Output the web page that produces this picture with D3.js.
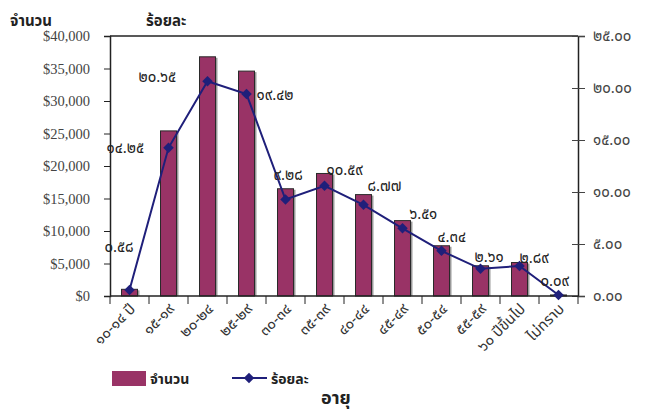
<!DOCTYPE html>
<html><head><meta charset="utf-8">
<script src="https://cdn.jsdelivr.net/npm/d3@7"></script>
<style>
body{margin:0;background:#fff;}
svg{display:block;}
</style></head>
<body><svg id="c" width="651" height="414"></svg>
<script>
const categories = ["๑๐-๑๔ ปี","๑๕-๑๙","๒๐-๒๔","๒๕-๒๙","๓๐-๓๔","๓๕-๓๙","๔๐-๔๔","๔๕-๔๙","๕๐-๕๔","๕๕-๕๙","๖๐ ปีขึ้นไป","ไม่ทราบ"];
const counts = [1030, 25400, 36800, 34600, 16500, 18850, 15600, 11600, 7730, 4650, 5150, 160];
const percents = [0.58, 14.25, 20.65, 19.42, 9.28, 10.59, 8.77, 6.51, 4.34, 2.61, 2.89, 0.09];
const percentLabels = ["๐.๕๘","๑๔.๒๕","๒๐.๖๕","๑๙.๔๒","๙.๒๘","๑๐.๕๙","๘.๗๗","๖.๕๑","๔.๓๔","๒.๖๑","๒.๘๙","๐.๐๙"];
const leftTicks = [0,5000,10000,15000,20000,25000,30000,35000,40000];
const rightTicks = [0,5,10,15,20,25];
const rightTickLabels = ["๐.๐๐","๕.๐๐","๑๐.๐๐","๑๕.๐๐","๒๐.๐๐","๒๕.๐๐"];
// label placement offsets (layout only)
const labelOffsets = [[-25,-38],[-62,5],[-69,1],[10,6],[-12,-19],[2,-11],[4,-14],[7,-9],[-4,-9],[-6,-7],[0,-3],[-18,-9]];

const svg = d3.select("#c");
const L = 110, R = 578, T = 36, B = 296;
const x = d3.scaleBand().domain(categories).range([L, R]).paddingInner(0.59).paddingOuter(0.295);
const xb = d3.scaleBand().domain(categories).range([L, R]);
const yL = d3.scaleLinear().domain([0, 40000]).range([B, T]);
const yR = d3.scaleLinear().domain([0, 25]).range([B, T]);
const thaiFont = '"Noto Sans Thai","Tahoma","Noto Sans","DejaVu Sans",sans-serif';
const navy = "#1f1f7a";

// bars
const bars = svg.append("g");
bars.selectAll("rect.sh").data(counts).join("rect")
  .attr("x", (d,i)=>x(categories[i]) + x.bandwidth())
  .attr("y", d=>yL(d)+1).attr("width", 2).attr("height", d=>B - yL(d) - 1)
  .attr("fill", "#9a9a9a");
bars.selectAll("rect.b").data(counts).join("rect")
  .attr("x", (d,i)=>x(categories[i]))
  .attr("y", d=>yL(d)).attr("width", x.bandwidth()).attr("height", d=>B - yL(d))
  .attr("fill", "#993366").attr("stroke", "#2a2a2a").attr("stroke-width", 1);

// frame top
svg.append("line").attr("x1", L).attr("x2", R).attr("y1", T).attr("y2", T).attr("stroke", "#222").attr("stroke-width", 1.5);

// left axis
const ax = d3.axisLeft(yL).tickValues(leftTicks).tickSize(6).tickPadding(14)
  .tickFormat(d=>"$" + d3.format(",")(d));
const gL = svg.append("g").attr("transform", `translate(${L},0)`).call(ax);
gL.select(".domain").attr("stroke", "#222").attr("stroke-width", 1.5);
gL.selectAll(".tick line").attr("stroke", "#222");
gL.selectAll(".tick text").attr("font-family", '"Liberation Serif","Times New Roman",serif').attr("font-size", 14.5).attr("fill", "#444");

// right axis
const axR = d3.axisRight(yR).tickValues(rightTicks).tickSize(7).tickPadding(8)
  .tickFormat((d,i)=>rightTickLabels[i]);
const gR = svg.append("g").attr("transform", `translate(${R},0)`).call(axR);
gR.select(".domain").attr("stroke", "#222").attr("stroke-width", 1.5);
gR.selectAll(".tick line").attr("stroke", "#444").attr("x1", -6);
gR.selectAll(".tick text").attr("font-family", thaiFont).attr("font-size", 15).attr("fill", "#444");

// bottom axis
const gB = svg.append("g").attr("transform", `translate(0,${B})`);
gB.append("line").attr("x1", L).attr("x2", R).attr("stroke", "#222").attr("stroke-width", 1.5);
const bounds = categories.map(c=>xb(c)).concat([R]);
gB.selectAll("line.t").data(bounds).join("line")
  .attr("x1", d=>d).attr("x2", d=>d).attr("y1", 0).attr("y2", 8).attr("stroke", "#222");
gB.selectAll("text").data(categories).join("text")
  .attr("transform", d=>`translate(${xb(d)+xb.bandwidth()/2+3},${10}) rotate(-45)`)
  .attr("text-anchor", "end").attr("dy", "0.35em")
  .attr("font-family", thaiFont).attr("font-size", 15).attr("fill", "#333").text(d=>d);

// line
const line = d3.line().x((d,i)=>xb(categories[i]) + xb.bandwidth()/2).y(d=>yR(d));
svg.append("path").datum(percents).attr("d", line).attr("fill", "none").attr("stroke", navy).attr("stroke-width", 2);
const sym = d3.symbol().type(d3.symbolSquare).size(55);
svg.selectAll("path.m").data(percents).join("path")
  .attr("transform", (d,i)=>`translate(${xb(categories[i]) + xb.bandwidth()/2},${yR(d)}) rotate(45)`)
  .attr("d", sym).attr("fill", navy);

// data labels
svg.selectAll("text.dl").data(percents).join("text")
  .attr("x", (d,i)=>xb(categories[i]) + xb.bandwidth()/2 + labelOffsets[i][0])
  .attr("y", (d,i)=>yR(d) + labelOffsets[i][1])
  .attr("font-family", thaiFont).attr("font-size", 15).attr("fill", "#222")
  .text((d,i)=>percentLabels[i]);

// titles
svg.append("text").attr("x", 10).attr("y", 26).text("จำนวน").attr("font-family", thaiFont).attr("font-size", 15).attr("font-weight", "bold").attr("fill", "#222");
svg.append("text").attr("x", 146).attr("y", 26).text("ร้อยละ").attr("font-family", thaiFont).attr("font-size", 15).attr("font-weight", "bold").attr("fill", "#222");

// legend
svg.append("rect").attr("x", 112).attr("y", 371).attr("width", 34).attr("height", 15).attr("fill", "#993366");
svg.append("text").attr("x", 150).attr("y", 384).text("จำนวน").attr("font-family", thaiFont).attr("font-size", 14).attr("font-weight", "bold").attr("fill", "#222");
svg.append("line").attr("x1", 232).attr("x2", 267).attr("y1", 378).attr("y2", 378).attr("stroke", navy).attr("stroke-width", 2);
svg.append("path").attr("transform", "translate(249,378) rotate(45)").attr("d", sym).attr("fill", navy);
svg.append("text").attr("x", 271).attr("y", 384).text("ร้อยละ").attr("font-family", thaiFont).attr("font-size", 14).attr("font-weight", "bold").attr("fill", "#222");

svg.append("text").attr("x", 321).attr("y", 404).text("อายุ").attr("font-family", thaiFont).attr("font-size", 18).attr("font-weight", "bold").attr("fill", "#222");
</script></body></html>
